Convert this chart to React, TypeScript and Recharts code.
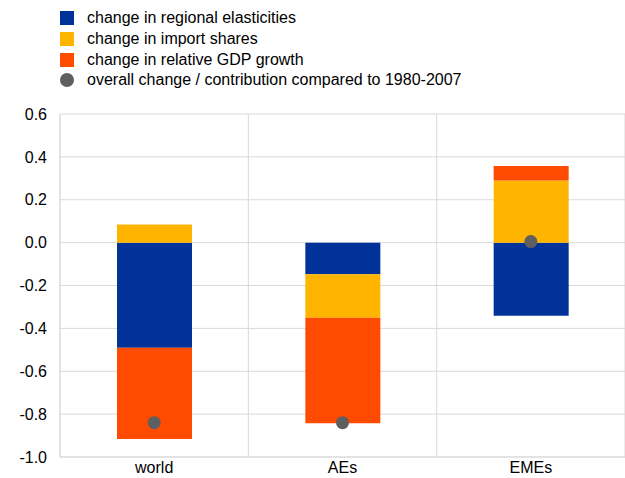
import React from "react";
import { ComposedChart, Bar, Line, XAxis, YAxis, CartesianGrid } from "recharts";

const categories = ["world", "AEs", "EMEs"];
const elasticities = [-0.49, -0.147, -0.341];
const importShares = [0.084, -0.203, 0.29];
const gdpGrowth = [-0.426, -0.493, 0.067];
const overall = [-0.84, -0.84, 0.005];
const yTicks = [0.6, 0.4, 0.2, 0.0, -0.2, -0.4, -0.6, -0.8, -1.0];

const BLUE = "#003299";
const YELLOW = "#FFB400";
const ORANGE = "#FF4B00";
const GREY = "#5F5F5F";
const FONT = "'Liberation Sans', Arial, sans-serif";

const data = categories.map((c, i) => ({
  name: c,
  elasticities: elasticities[i],
  importShares: importShares[i],
  gdpGrowth: gdpGrowth[i],
  overall: overall[i],
}));

const legendItems = [
  { label: "change in regional elasticities", color: BLUE, shape: "square" },
  { label: "change in import shares", color: YELLOW, shape: "square" },
  { label: "change in relative GDP growth", color: ORANGE, shape: "square" },
  { label: "overall change / contribution compared to 1980-2007", color: GREY, shape: "circle" },
];

const LegendBlock = () => (
  <div
    style={{
      position: "absolute",
      left: 60,
      top: 8,
      fontFamily: FONT,
      fontSize: 16,
      color: "#000",
      zIndex: 2,
    }}
  >
    {legendItems.map((it) => (
      <div key={it.label} style={{ display: "flex", alignItems: "center", height: 20.7, whiteSpace: "nowrap" }}>
        <span
          style={{
            display: "inline-block",
            width: 14,
            height: 14,
            background: it.color,
            borderRadius: it.shape === "circle" ? 7 : 0,
            marginRight: 13,
            flex: "none",
          }}
        />
        <span>{it.label}</span>
      </div>
    ))}
  </div>
);

const tickStyle = { fontFamily: FONT, fontSize: 16, fill: "#000" };

export default function App() {
  return (
    <div style={{ position: "absolute", left: 0, top: 0, width: 625, height: 478, background: "#fff" }}>
      <LegendBlock />
      <ComposedChart
        width={625}
        height={478}
        data={data}
        stackOffset="sign"
        margin={{ top: 114, right: 0, left: 0, bottom: 0 }}
      >
        <CartesianGrid
          stroke="#D9D9D9"
          strokeWidth={1}
          verticalCoordinatesGenerator={({ offset }: any) => [
            offset.left,
            offset.left + offset.width / 3,
            offset.left + (2 * offset.width) / 3,
            offset.left + offset.width,
          ]}
        />
        <XAxis
          dataKey="name"
          height={21}
          tickLine={false}
          tickSize={0}
          tickMargin={5}
          axisLine={{ stroke: "#D9D9D9" }}
          tick={tickStyle}
        />
        <YAxis
          width={60}
          domain={[-1, 0.6]}
          ticks={yTicks}
          type="number"
          allowDataOverflow
          tickLine={false}
          tickSize={0}
          tickMargin={13}
          axisLine={{ stroke: "#D9D9D9" }}
          tick={tickStyle}
          tickFormatter={(v: number) => v.toFixed(1)}
        />
        <Bar dataKey="elasticities" stackId="a" fill={BLUE} barSize={75} isAnimationActive={false} />
        <Bar dataKey="importShares" stackId="a" fill={YELLOW} barSize={75} isAnimationActive={false} />
        <Bar dataKey="gdpGrowth" stackId="a" fill={ORANGE} barSize={75} isAnimationActive={false} />
        <Line
          dataKey="overall"
          stroke="none"
          strokeWidth={0}
          dot={{ r: 6.5, fill: GREY, stroke: "none" }}
          activeDot={false}
          isAnimationActive={false}
        />
      </ComposedChart>
    </div>
  );
}
